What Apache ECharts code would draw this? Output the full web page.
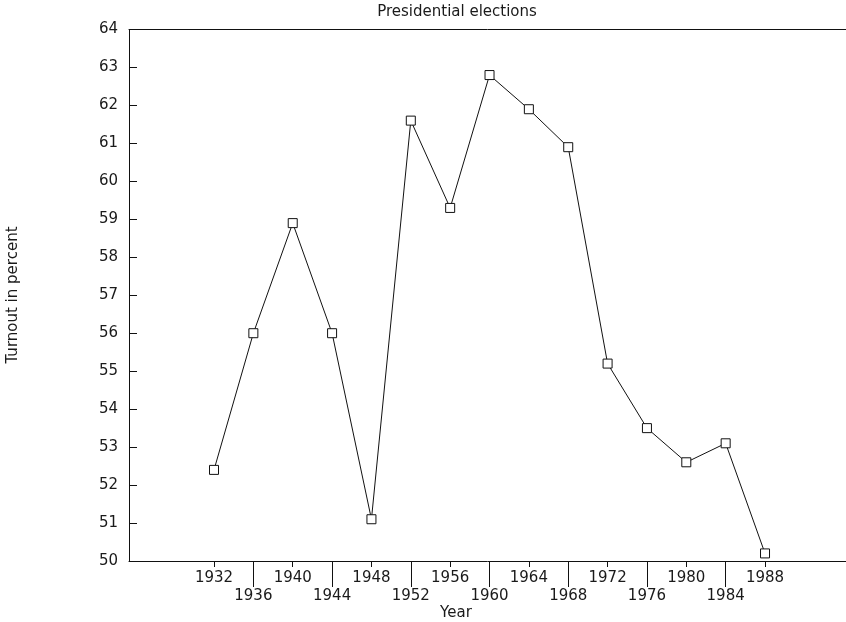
<!DOCTYPE html>
<html>
<head>
<meta charset="utf-8">
<script src="https://cdn.jsdelivr.net/npm/echarts@6/dist/echarts.min.js"></script>
<style>html,body{margin:0;padding:0;background:#fff}#c{width:846px;height:622px}</style>
</head>
<body>
<div id="c"></div>
<script>
const years = [1932, 1936, 1940, 1944, 1948, 1952, 1956, 1960, 1964, 1968, 1972, 1976, 1980, 1984, 1988];
const turnout = [52.4, 56.0, 58.9, 56.0, 51.1, 61.6, 59.3, 62.8, 61.9, 60.9, 55.2, 53.5, 52.6, 53.1, 50.2];
const upperRowYears = [1932, 1940, 1948, 1956, 1964, 1972, 1980, 1988];
const lowerRowYears = [1936, 1944, 1952, 1960, 1968, 1976, 1984];
const yTicks = [50, 51, 52, 53, 54, 55, 56, 57, 58, 59, 60, 61, 62, 63, 64];
const titleText = 'Presidential elections';
const xName = 'Year';
const yName = 'Turnout in percent';

const FONT = 'DejaVu Sans';
const TXT = '#1a1a1a';
const XMIN = 1923.36, XMAX = 1996.23;

const chart = echarts.init(document.getElementById('c'), null, {renderer: 'canvas'});
const labelStyle = {fontFamily: FONT, fontSize: 15, color: TXT};
chart.setOption({
  animation: false,
  backgroundColor: '#fff',
  grid: {left: 129, right: 0, top: 29.5, bottom: 61, containLabel: false},
  xAxis: [
    {
      type: 'value', position: 'bottom', min: XMIN, max: XMAX,
      axisLine: {show: true, onZero: false, lineStyle: {color: '#111', width: 1}},
      axisTick: {show: true, inside: false, length: 6, customValues: upperRowYears, lineStyle: {color: '#111'}},
      axisLabel: Object.assign({show: true, margin: 10, customValues: upperRowYears, formatter: v => String(v)}, labelStyle),
      splitLine: {show: false}
    },
    {
      type: 'value', position: 'bottom', min: XMIN, max: XMAX,
      axisLine: {show: false, onZero: false},
      axisTick: {show: true, inside: false, length: 26, customValues: lowerRowYears, lineStyle: {color: '#111'}},
      axisLabel: Object.assign({show: true, margin: 28, customValues: lowerRowYears, formatter: v => String(v)}, labelStyle),
      splitLine: {show: false}
    },
    {
      type: 'value', position: 'top', min: XMIN, max: XMAX,
      axisLine: {show: true, onZero: false, lineStyle: {color: '#111', width: 1}},
      axisTick: {show: false}, axisLabel: {show: false}, splitLine: {show: false}
    }
  ],
  yAxis: {
    type: 'value', min: 50, max: 64, interval: 1,
    axisLine: {show: true, onZero: false, lineStyle: {color: '#111', width: 1}},
    axisTick: {show: true, inside: true, length: 8, customValues: yTicks.slice(0, -1), lineStyle: {color: '#111'}},
    axisLabel: Object.assign({margin: 11, customValues: yTicks}, labelStyle),
    splitLine: {show: false}
  },
  series: [{
    type: 'line',
    xAxisIndex: 0,
    data: years.map((y, i) => [y, turnout[i]]),
    symbol: 'rect', symbolSize: 9, showAllSymbol: true,
    lineStyle: {color: '#111', width: 1},
    itemStyle: {color: '#fff', borderColor: '#111', borderWidth: 1},
    z: 3
  }],
  graphic: [
    {type: 'text', x: 457, y: 12, style: {text: titleText, font: '15px ' + FONT, fill: TXT, align: 'center', verticalAlign: 'middle'}},
    {type: 'text', x: 456, y: 613, style: {text: xName, font: '15px ' + FONT, fill: TXT, align: 'center', verticalAlign: 'middle'}},
    {type: 'text', x: 13, y: 295, rotation: Math.PI / 2, style: {text: yName, font: '15px ' + FONT, fill: TXT, align: 'center', verticalAlign: 'middle'}}
  ]
});
</script>
</body>
</html>
